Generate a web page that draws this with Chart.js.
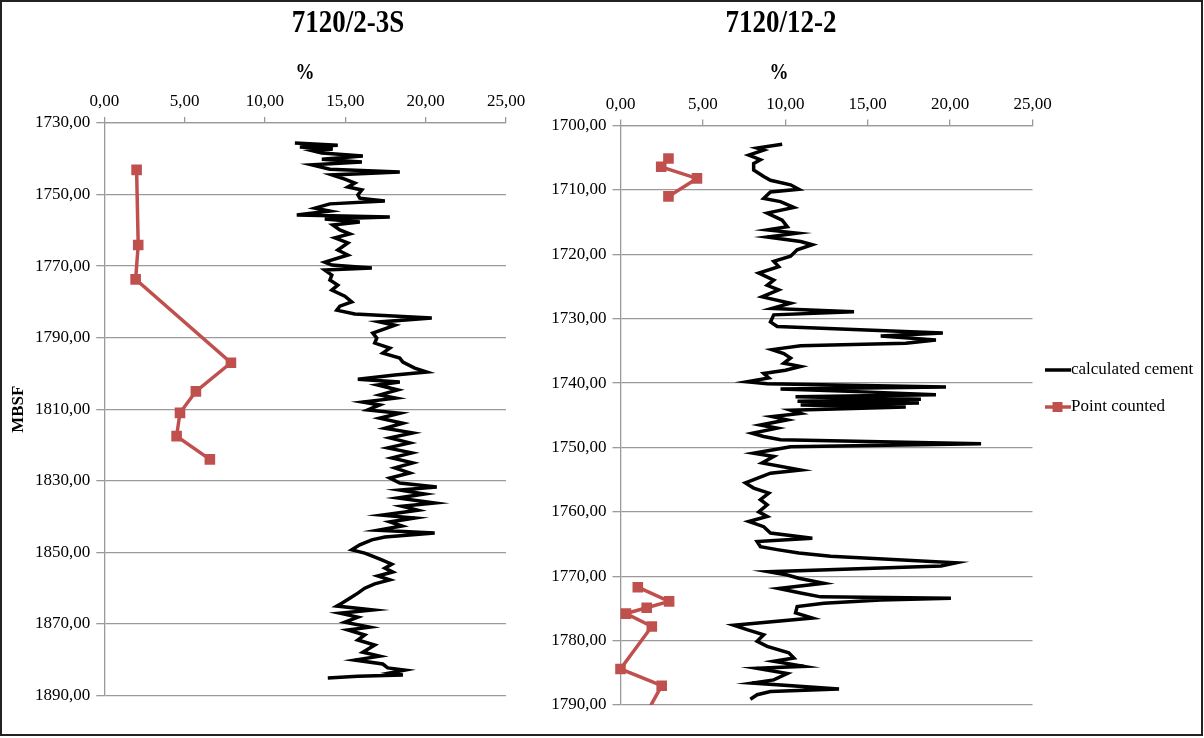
<!DOCTYPE html>
<html lang="en">
<head>
    <meta charset="UTF-8">
    <title>Calculated cement vs point counted</title>
    <script src="https://cdn.jsdelivr.net/npm/chart.js"></script>
    <style>
        body { margin: 0; background: #fff; }
        #frame {
            position: relative;
            width: 1204px;
            height: 738px;
            overflow: hidden;
            font-family: "Liberation Serif", "Times New Roman", serif;
        }
        #border {
            position: absolute;
            left: 0; top: 0;
            width: 1203px; height: 736px;
            box-sizing: border-box;
            border: 2px solid #222;
            pointer-events: none;
        }
        canvas { position: absolute; top: 0; }
        #leftChart { left: 0; }
        #rightChart { left: 530px; }
        .title, .unit {
            position: absolute;
            font-weight: bold;
            color: #000;
            white-space: nowrap;
            transform: translate(-50%, -50%) scaleY(1.2);
        }
        .title { font-size: 27px; top: 22px; }
        .unit { font-size: 19px; top: 72px; }
    </style>
</head>
<body>
<div id="frame">
    <canvas id="leftChart" width="540" height="738"></canvas>
    <canvas id="rightChart" width="674" height="738"></canvas>
    <div class="title" style="left:348px">7120/2-3S</div>
    <div class="title" style="left:781px">7120/12-2</div>
    <div class="unit" style="left:305px">%</div>
    <div class="unit" style="left:779px">%</div>
    <div id="border"></div>
</div>

<script>
    // 7120/2-3S
    const leftCementDepth = [1735.6,1736.2,1736.7,1737.3,1737.8,1738.4,1739.2,1740.1,1740.9,1741.7,
        1742.9,1743.7,1744.5,1745.7,1746.8,1747.9,1748.7,1750.1,1751.0,1751.8,
        1752.6,1753.8,1754.6,1755.7,1756.3,1756.8,1757.7,1758.5,1759.9,1761.0,
        1762.1,1763.5,1765.5,1766.9,1768.9,1769.7,1770.5,1771.1,1772.5,1773.9,
        1775.3,1776.7,1778.4,1780.0,1781.2,1782.3,1783.4,1784.5,1785.6,1786.5,
        1787.3,1788.7,1790.1,1791.5,1792.9,1794.3,1795.7,1796.8,1798.5,1799.6,
        1800.4,1801.6,1802.4,1803.2,1804.6,1806.0,1806.9,1808.0,1808.8,1810.2,
        1811.1,1812.5,1813.9,1815.3,1816.6,1818.0,1819.4,1820.8,1822.2,1823.6,
        1825.0,1826.4,1827.8,1829.2,1830.6,1831.7,1832.6,1833.7,1834.8,1836.2,
        1837.1,1838.2,1839.6,1840.4,1841.5,1842.6,1843.8,1844.6,1845.7,1846.5,
        1847.9,1849.3,1850.2,1851.0,1852.1,1853.3,1854.4,1855.5,1856.6,1857.7,
        1858.8,1860.0,1861.4,1862.8,1864.2,1865.0,1866.1,1867.0,1868.1,1869.5,
        1870.9,1871.7,1873.1,1874.5,1875.9,1877.9,1879.0,1880.1,1881.2,1882.3,
        1882.9,1883.7,1884.3,1884.6,1885.1];
    const leftCement = [11.86,14.53,12.17,14.22,12.98,13.54,16.09,13.54,16.03,12.92,
        14.04,18.39,14.16,14.97,15.59,15.16,16.03,15.78,15.90,17.46,
        14.04,13.11,14.04,11.98,17.77,13.72,15.90,14.22,14.66,15.28,
        14.35,15.16,14.53,15.16,13.72,14.16,16.65,13.72,14.16,14.04,
        14.53,14.16,14.97,15.40,14.66,14.47,15.59,20.38,17.14,18.08,
        17.58,16.71,16.96,16.83,17.77,17.33,18.39,18.58,19.32,20.07,
        18.08,15.78,18.39,17.02,18.27,17.14,18.14,16.09,17.14,16.40,
        18.39,17.14,18.58,17.46,19.20,17.77,19.01,17.64,19.14,17.89,
        19.20,18.08,19.01,17.77,18.39,20.69,18.39,19.94,18.27,20.56,
        18.52,19.51,17.27,19.32,17.77,18.52,17.02,20.56,17.46,16.65,
        15.90,15.40,16.21,16.65,17.27,17.89,17.46,17.95,17.02,17.77,
        16.83,16.21,15.78,15.28,14.78,14.47,16.71,14.66,15.78,14.97,
        16.52,15.16,16.21,15.78,16.83,16.09,17.14,15.59,17.33,17.64,
        18.70,17.77,18.58,15.78,13.91];
    const leftPointDepth = [1743.1, 1764.1, 1773.7, 1797.0, 1805.0, 1811.0, 1817.5, 1824.0];
    const leftPointValue = [2.01, 2.11, 1.95, 7.88, 5.70, 4.71, 4.50, 6.57];

    // 7120/12-2
    const rightCementDepth = [1702.9,1703.5,1703.8,1704.6,1705.3,1705.9,1706.9,1707.9,1708.5,1709.2,
        1709.9,1710.3,1711.3,1711.8,1712.7,1713.6,1714.7,1715.7,1716.2,1716.7,
        1717.3,1718.0,1718.5,1719.3,1720.3,1721.1,1721.9,1722.9,1724.0,1724.8,
        1725.5,1726.6,1727.6,1728.4,1728.9,1729.4,1730.5,1731.2,1732.2,1732.7,
        1733.3,1733.8,1734.2,1734.8,1735.4,1736.1,1736.9,1737.4,1738.0,1738.5,
        1739.2,1739.8,1740.1,1740.6,1740.9,1741.4,1741.8,1742.1,1742.5,1742.8,
        1743.1,1743.4,1743.7,1744.2,1744.7,1745.2,1745.7,1746.5,1747.0,1747.8,
        1748.3,1748.8,1749.4,1749.9,1750.9,1751.4,1752.4,1753.5,1754.0,1755.5,
        1756.3,1757.1,1758.1,1758.9,1760.0,1760.7,1761.5,1762.3,1763.3,1764.1,
        1764.6,1765.4,1765.9,1766.4,1766.9,1767.9,1768.4,1769.3,1769.8,1770.3,
        1771.1,1771.9,1772.6,1773.2,1773.4,1773.7,1774.2,1774.7,1775.7,1776.5,
        1777.6,1778.3,1779.1,1780.1,1780.9,1781.9,1782.7,1783.2,1784.0,1784.3,
        1785.1,1786.1,1786.6,1787.5,1787.9,1788.4,1789.1];
    const rightCement = [9.81,8.29,8.69,7.78,8.49,8.08,8.08,8.69,9.10,10.32,
        10.82,9.10,8.69,9.71,10.52,8.90,9.81,10.12,8.90,10.72,
        8.90,10.93,11.64,10.72,10.32,9.30,9.60,8.39,9.30,8.90,
        9.60,8.59,10.32,9.20,14.17,9.30,9.10,9.51,19.56,15.79,
        19.14,17.31,10.93,9.20,9.91,10.32,9.91,10.93,10.01,8.69,
        9.00,7.68,8.90,19.75,9.71,15.19,19.14,10.62,18.23,10.74,
        18.11,10.93,17.31,10.32,10.93,9.20,10.12,8.49,9.51,7.99,
        8.69,9.71,21.88,10.32,8.08,9.30,8.59,10.93,9.10,7.58,
        8.08,9.00,8.49,8.90,8.39,8.90,7.78,8.69,9.10,11.64,
        8.29,8.49,9.60,10.82,12.75,20.36,19.45,9.00,10.12,10.82,
        12.34,9.60,10.93,12.14,20.05,15.79,12.34,10.72,10.62,11.64,
        6.87,7.68,8.69,8.29,8.90,10.21,10.52,9.30,11.13,8.29,
        10.12,9.30,7.99,13.26,9.10,8.29,7.88];
    // null breaks the line between the two sampled intervals
    const rightPointDepth = [1705.1, 1706.4, 1708.2, 1711.0, 1740.0, 1771.7, 1773.9, 1774.9, 1775.8, 1777.8, 1784.4, 1787.0, 1793.0];
    const rightPointValue = [2.91, 2.47, 4.64, 2.91, null, 1.05, 2.95, 1.59, 0.33, 1.90, 0.00, 2.50, 1.20];

    const FONT = "'Liberation Serif', 'Times New Roman', serif";
    const RED = '#c0504d';
    const GRID = '#9a9a9a';

    function toPoints(depths, values) {
        return depths.map((d, i) => ({ x: values[i], y: d }));
    }

    function commaLabel(v) {
        return Number(v).toFixed(2).replace('.', ',');
    }

    // legend icons: plain line and line with square marker (Excel style)
    function makeIcon(color, withMarker) {
        const c = document.createElement('canvas');
        c.width = 26; c.height = 14;
        const g = c.getContext('2d');
        g.strokeStyle = color;
        g.lineWidth = 3.5;
        g.beginPath();
        g.moveTo(0, 7);
        g.lineTo(26, 7);
        g.stroke();
        if (withMarker) {
            g.fillStyle = color;
            g.fillRect(8, 2, 10, 10);
        }
        return c;
    }
    const legendIcons = [makeIcon('#000', false), makeIcon(RED, true)];

    function datasets(cDepth, cVal, pDepth, pVal) {
        return [
            {
                label: 'calculated cement',
                data: toPoints(cDepth, cVal),
                borderColor: '#000',
                backgroundColor: '#000',
                borderWidth: 3.5,
                pointRadius: 0,
                showLine: true,
                tension: 0
            },
            {
                label: 'Point counted',
                data: toPoints(pDepth, pVal),
                borderColor: RED,
                backgroundColor: RED,
                borderWidth: 3.5,
                pointStyle: 'rect',
                pointRadius: 7.5,
                pointBorderWidth: 0,
                showLine: true,
                spanGaps: false,
                tension: 0,
                clip: { left: 10, top: 10, right: 10, bottom: 0 }
            }
        ];
    }

    function scales(yMin, yMax, yStep, yWidth, xHeight, showTitle) {
        return {
            x: {
                type: 'linear',
                position: 'top',
                min: 0,
                max: 25,
                ticks: {
                    stepSize: 5,
                    padding: 5,
                    color: '#000',
                    font: { family: FONT, size: 17 },
                    callback: commaLabel
                },
                grid: { drawOnChartArea: false, drawTicks: true, tickLength: 6, color: GRID, lineWidth: 1.3 },
                border: { display: true, color: GRID, width: 1.3 },
                afterFit: (axis) => { axis.height = xHeight; }
            },
            y: {
                type: 'linear',
                reverse: true,
                min: yMin,
                max: yMax,
                ticks: {
                    stepSize: yStep,
                    padding: 6,
                    color: '#000',
                    font: { family: FONT, size: 17 },
                    callback: commaLabel
                },
                grid: { color: GRID, lineWidth: 1.3, tickLength: 8 },
                border: { display: true, color: GRID, width: 1.3 },
                title: {
                    display: showTitle,
                    text: 'MBSF',
                    color: '#000',
                    font: { family: FONT, size: 17, weight: 'bold' },
                    padding: { top: 8, bottom: 0 }
                },
                afterFit: (axis) => { axis.width = yWidth; }
            }
        };
    }

    new Chart(document.getElementById('leftChart'), {
        type: 'scatter',
        data: { datasets: datasets(leftCementDepth, leftCement, leftPointDepth, leftPointValue) },
        options: {
            responsive: false,
            animation: false,
            layout: { padding: { left: 0, top: 40, right: 34, bottom: 42.5 } },
            scales: scales(1730, 1890, 20, 104.3, 83, true),
            plugins: {
                legend: { display: false },
                tooltip: { enabled: false }
            }
        }
    });

    new Chart(document.getElementById('rightChart'), {
        type: 'scatter',
        data: { datasets: datasets(rightCementDepth, rightCement, rightPointDepth, rightPointValue) },
        options: {
            responsive: false,
            animation: false,
            layout: { padding: { left: 0, top: 72, right: 4, bottom: 33 } },
            scales: scales(1700, 1790, 10, 90.5, 53.6, false),
            plugins: {
                legend: {
                    display: true,
                    position: 'right',
                    align: 'center',
                    labels: {
                        usePointStyle: true,
                        pointStyleWidth: 10,
                        padding: 20,
                        color: '#000',
                        font: { family: FONT, size: 17 },
                        generateLabels: (chart) => {
                            const items = Chart.defaults.plugins.legend.labels.generateLabels(chart);
                            items.forEach((item, i) => { item.pointStyle = legendIcons[i]; });
                            return items;
                        }
                    }
                },
                tooltip: { enabled: false }
            }
        }
    });
</script>
</body>
</html>
